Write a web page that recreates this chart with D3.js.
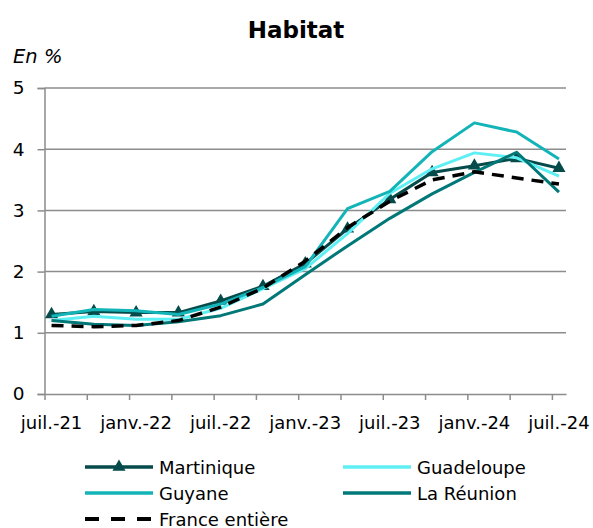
<html>
<head>
<style>
body { margin: 0; background: #fff; }
svg { font-family: "DejaVu Sans", Verdana, sans-serif; }
</style>
<script src="https://d3js.org/d3.v7.min.js"></script>
</head>
<body>
<svg id="chart" width="593" height="528"></svg>
<script>
// quarterly points, juil.-21 .. juil.-24
const months = ["juil.-21","oct.-21","janv.-22","avr.-22","juil.-22","oct.-22","janv.-23","avr.-23","juil.-23","oct.-23","janv.-24","avr.-24","juil.-24"];
const yTicks = [0, 1, 2, 3, 4, 5];

const martinique = [1.30,1.35,1.33,1.33,1.52,1.76,2.13,2.70,3.18,3.62,3.73,3.85,3.69];
const guadeloupe = [1.20,1.27,1.22,1.22,1.40,1.72,2.05,2.62,3.28,3.68,3.94,3.86,3.56];
const guyane     = [1.27,1.38,1.36,1.30,1.47,1.74,2.08,3.03,3.31,3.96,4.43,4.28,3.84];
const reunion    = [1.20,1.14,1.12,1.18,1.28,1.47,1.95,2.42,2.87,3.27,3.62,3.95,3.30];
const france     = [1.12,1.10,1.12,1.20,1.42,1.73,2.17,2.72,3.15,3.50,3.63,3.53,3.43];

const series = [
  {name: "Martinique", values: martinique, color: "#064b4b", marker: true},
  {name: "Guadeloupe", values: guadeloupe, color: "#5eeff4"},
  {name: "Guyane", values: guyane, color: "#13b4b7"},
  {name: "La Réunion", values: reunion, color: "#007878"},
  {name: "France entière", values: france, color: "#000", dash: "12,8"}
];

const svg = d3.select("#chart");
const plotL = 44.5, plotR = 566, plotT = 88, plotB = 394;

// month-based axis: 37 monthly slots, points in the middle of their month
const x = d3.scaleLinear().domain([0, 37]).range([plotL, plotR]);
const y = d3.scaleLinear().domain([0, 5]).range([plotB, plotT]);
const px = i => x(i * 3 + 0.5);

// title
svg.append("text").attr("x", 296).attr("y", 38).attr("text-anchor", "middle")
  .attr("font-size", 23).attr("font-weight", "bold").text("Habitat");
svg.append("text").attr("x", 13).attr("y", 63).attr("font-size", 19.5)
  .attr("font-style", "italic").text("En %");

// grid
svg.append("g").selectAll("line").data(yTicks.slice(1)).enter().append("line")
  .attr("x1", plotL).attr("x2", plotR)
  .attr("y1", d => y(d)).attr("y2", d => y(d))
  .attr("stroke", "#8c8c8c").attr("stroke-width", 1.5);

// y axis
const yAxis = svg.append("g").attr("transform", "translate(" + plotL + ",0)")
  .call(d3.axisLeft(y).tickValues(yTicks).tickSize(7).tickPadding(13).tickFormat(d3.format("d")));
yAxis.select(".domain").attr("stroke", "#8c8c8c").attr("stroke-width", 1.5);
yAxis.selectAll(".tick line").attr("stroke", "#8c8c8c").attr("stroke-width", 1.5);
yAxis.selectAll("text").attr("font-size", 18.5).attr("font-family", "DejaVu Sans").attr("fill", "#000");

// x axis: ticks every quarter, labels every half-year
const xAxis = svg.append("g").attr("transform", "translate(0," + plotB + ")")
  .call(d3.axisBottom(x).tickValues(d3.range(0, 37, 3)).tickSize(6).tickSizeOuter(0).tickFormat(""));
xAxis.select(".domain").attr("stroke", "#8c8c8c").attr("stroke-width", 1.5);
xAxis.selectAll(".tick line").attr("stroke", "#8c8c8c").attr("stroke-width", 1.5);
svg.append("g").selectAll("text").data(months.filter((m, i) => i % 2 === 0)).enter().append("text")
  .attr("x", (d, i) => px(i * 2)).attr("y", 429).attr("text-anchor", "middle")
  .attr("font-size", 18).text(d => d);

// lines
const line = d3.line().x((d, i) => px(i)).y(d => y(d));
const tri = d3.symbol().type(d3.symbolTriangle).size(75);
series.forEach(s => {
  svg.append("path").datum(s.values).attr("d", line)
    .attr("fill", "none").attr("stroke", s.color).attr("stroke-width", s.dash ? 3.5 : 3)
    .attr("stroke-dasharray", s.dash || null).attr("stroke-linejoin", "round");
  if (s.marker) {
    svg.append("g").selectAll("path").data(s.values).enter().append("path")
      .attr("d", tri).attr("fill", s.color)
      .attr("transform", (d, i) => "translate(" + px(i) + "," + y(d) + ")");
  }
});

// legend
const legPos = [[85, 467], [343, 467], [85, 493], [343, 493], [85, 519]];
const legOrder = ["Martinique", "Guadeloupe", "Guyane", "La Réunion", "France entière"];
legOrder.forEach((name, k) => {
  const s = series.find(d => d.name === name);
  const [lx, ly] = legPos[k];
  const g = svg.append("g").attr("transform", "translate(" + lx + "," + ly + ")");
  g.append("line").attr("x1", 0).attr("x2", 68).attr("y1", 0).attr("y2", 0)
    .attr("stroke", s.color).attr("stroke-width", s.dash ? 4 : 3.5)
    .attr("stroke-dasharray", s.dash ? "14,12" : null);
  if (s.marker) g.append("path").attr("d", tri).attr("fill", s.color).attr("transform", "translate(34,0)");
  g.append("text").attr("x", 74).attr("y", 6.5).attr("font-size", 18).text(name);
});
</script>
</body>
</html>
